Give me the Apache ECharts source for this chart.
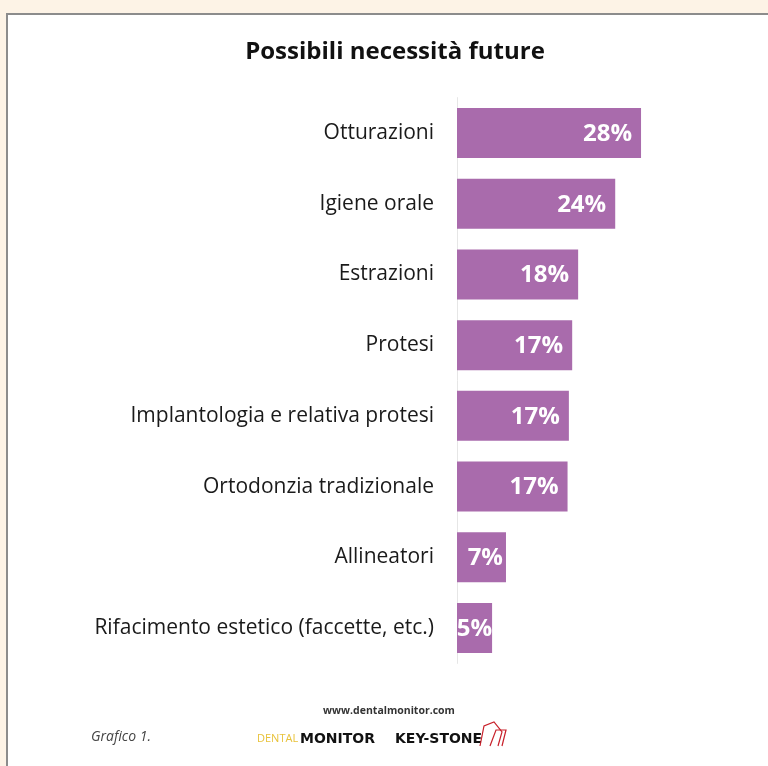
<!DOCTYPE html>
<html>
<head>
<meta charset="utf-8">
<script src="https://cdn.jsdelivr.net/npm/echarts@6/dist/echarts.min.js"></script>
<style>
html,body{margin:0;padding:0;background:#fdf3e6;}
#chart{width:768px;height:766px;}
</style>
</head>
<body>
<div id="chart"></div>
<script>
const categories = [
  "Otturazioni",
  "Igiene orale",
  "Estrazioni",
  "Protesi",
  "Implantologia e relativa protesi",
  "Ortodonzia tradizionale",
  "Allineatori",
  "Rifacimento estetico (faccette, etc.)"
];
const values = [27.8, 23.9, 18.3, 17.4, 16.9, 16.7, 7.4, 5.3];
const valueLabels = ["28%", "24%", "18%", "17%", "17%", "17%", "7%", "5%"];

const FONT = "'Open Sans', Lato, sans-serif";
const barData = values.map(function (v) {
  if (v < 6) return {value: v, label: {position: 'inside', offset: [0, 1]}};
  if (v < 10) return {value: v, label: {distance: 3, offset: [0, 1]}};
  return v;
});
const chart = echarts.init(document.getElementById('chart'), null, {renderer: 'canvas'});
chart.setOption({
  backgroundColor: '#fdf3e6',
  animation: false,
  graphic: [
    {type: 'rect', z: -10, shape: {x: 7, y: 14, width: 800, height: 800},
     style: {fill: '#ffffff', stroke: '#8c8c8c', lineWidth: 2}},
    {type: 'text', x: 395, y: 52, z: 10,
     style: {text: 'Possibili necessità future', font: "bold 24px " + FONT, fill: '#111', align: 'center', verticalAlign: 'middle'}},
    {type: 'text', x: 389, y: 711, z: 10,
     style: {text: 'www.dentalmonitor.com', font: "bold 10.5px " + FONT, fill: '#333', align: 'center', verticalAlign: 'middle'}},
    {type: 'text', x: 91, y: 737, z: 10,
     style: {text: 'Grafico 1.', font: "italic 14px " + FONT, fill: '#444', align: 'left', verticalAlign: 'middle'}},
    {type: 'text', x: 257, y: 739, z: 10,
     style: {text: 'DENTAL', font: "11px " + FONT, fill: '#e8c23a', align: 'left', verticalAlign: 'middle'}},
    {type: 'text', x: 300, y: 739, z: 10,
     style: {text: 'MONITOR', font: "bold 14px 'DejaVu Sans', sans-serif", fill: '#111', align: 'left', verticalAlign: 'middle'}},
    {type: 'text', x: 395, y: 739, z: 10,
     style: {text: 'KEY-STONE', font: "bold 14px 'DejaVu Sans', sans-serif", fill: '#111', align: 'left', verticalAlign: 'middle'}},
    {type: 'polyline', z: 10, shape: {points: [[480,746],[484,726],[494,722],[502,732],[498,746]]},
     style: {stroke: '#c8202a', fill: null, lineWidth: 1.2}},
    {type: 'polyline', z: 10, shape: {points: [[490,746],[496,730],[506,730],[502,746]]},
     style: {stroke: '#c8202a', fill: null, lineWidth: 1.2}}
  ],
  grid: {left: 457, top: 97.6, width: 264.8, height: 565.8, containLabel: false},
  xAxis: {
    type: 'value', min: 0, max: 40,
    show: false
  },
  yAxis: {
    type: 'category', data: categories, inverse: true,
    axisLine: {show: true, lineStyle: {color: '#e6e6e6', width: 1}},
    axisTick: {show: false},
    axisLabel: {color: '#1a1a1a', fontSize: 21, fontFamily: FONT, margin: 23}
  },
  series: [{
    type: 'bar', data: barData, barWidth: 50,
    itemStyle: {color: '#a96bac'},
    label: {
      show: true, position: 'insideRight', offset: [-4, 1],
      color: '#ffffff', fontSize: 24, fontWeight: 'bold', fontFamily: FONT,
      formatter: function (p) { return valueLabels[p.dataIndex]; }
    }
  }]
});
</script>
</body>
</html>
